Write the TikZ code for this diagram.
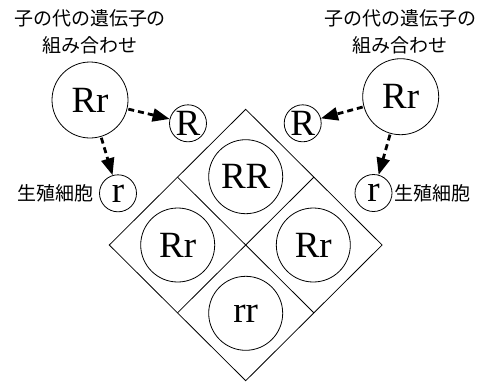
\documentclass[tikz,border=0pt]{standalone}
\usepackage{fontspec}
\newfontfamily\jp{Noto Sans CJK JP}
\newfontfamily\latf{Liberation Serif}
\usetikzlibrary{arrows.meta}
\begin{document}
\begin{tikzpicture}[x=1pt,y=-1pt,
  lat/.style={font=\latf\fontsize{37}{37}\selectfont},
  jtext/.style={font=\jp\fontsize{19}{27}\selectfont, align=center, inner sep=0pt},
  bigc/.style={draw, circle, line width=0.8pt, minimum size=76pt, inner sep=0pt, lat},
  smallc/.style={draw, circle, line width=0.8pt, minimum size=37pt, inner sep=0pt, lat},
  cellc/.style={draw, circle, line width=0.8pt, minimum size=74pt, inner sep=0pt, lat},
  arr/.style={line width=2.8pt, dash pattern=on 6pt off 4pt, -{Triangle[length=17pt,width=13pt]}, shorten <=1pt},
  grid/.style={line width=0.8pt}]
\useasboundingbox (0,0) rectangle (482,384);
% texts
\node[jtext] (tl) at (90,31.5) {子の代の遺伝子の\\組み合わせ};
\node[jtext] (tr) at (400,31.5) {子の代の遺伝子の\\組み合わせ};
% parent circles
\node[bigc] (L) at (90,100) {Rr};
\node[bigc] (Rt) at (400.7,96.7) {Rr};
\node[smallc] (LR) at (188,123.3) {R};
\node[smallc] (Lr) at (118,193.3) {r};
\node[smallc] (RR) at (302.7,123.3) {R};
\node[smallc] (Rr) at (373.5,193) {r};
\node[jtext, anchor=east] (gl) at (94,193.5) {生殖細胞};
\node[jtext, anchor=west] (gr) at (394,193.5) {生殖細胞};
% arrows
\draw[arr] (L) -- (LR);
\draw[arr] (L) -- (Lr);
\draw[arr] (Rt) -- (RR);
\draw[arr] (Rt) -- (Rr);
% diamond
\coordinate (T) at (245.7,109.3);
\coordinate (B) at (245.7,380.7);
\coordinate (W) at (109.3,245);
\coordinate (E) at (382.1,245);
\coordinate (C) at (245.7,245);
\coordinate (NW) at (177.5,177.15);
\coordinate (NE) at (313.9,177.15);
\coordinate (SW) at (177.5,312.85);
\coordinate (SE) at (313.9,312.85);
\draw[grid] (T) -- (E) -- (B) -- (W) -- cycle;
\draw[grid] (NW) -- (SE);
\draw[grid] (NE) -- (SW);
% cell circles
\node[cellc] (c1) at (245.7,176.7) {RR};
\node[cellc] (c2) at (177.7,245) {Rr};
\node[cellc] (c3) at (313.3,245) {Rr};
\node[cellc] (c4) at (245.7,313.3) {rr};
\end{tikzpicture}
\end{document}
